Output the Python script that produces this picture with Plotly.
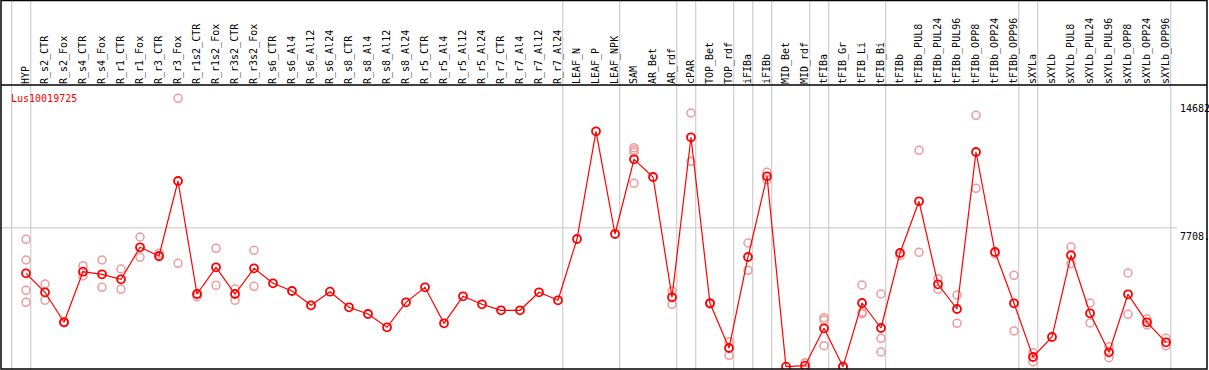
import plotly.graph_objects as go

categories = ["HYP", "R_s2_CTR", "R_s2_Fox", "R_s4_CTR", "R_s4_Fox", "R_r1_CTR", "R_r1_Fox",
              "R_r3_CTR", "R_r3_Fox", "R_r1s2_CTR", "R_r1s2_Fox", "R_r3s2_CTR", "R_r3s2_Fox",
              "R_s6_CTR", "R_s6_Al4", "R_s6_Al12", "R_s6_Al24", "R_s8_CTR", "R_s8_Al4",
              "R_s8_Al12", "R_s8_Al24", "R_r5_CTR", "R_r5_Al4", "R_r5_Al12", "R_r5_Al24",
              "R_r7_CTR", "R_r7_Al4", "R_r7_Al12", "R_r7_Al24", "LEAF_N", "LEAF_P", "LEAF_NPK",
              "SAM", "AR_Bet", "AR_rdf", "cPAR", "TOP_Bet", "TOP_rdf", "iFIBa", "iFIBb",
              "MID_Bet", "MID_rdf", "tFIBa", "tFIB_Gr", "tFIB_Li", "tFIB_Bi", "tFIBb",
              "tFIBb_PUL8", "tFIBb_PUL24", "tFIBb_PUL96", "tFIBb_OPP8", "tFIBb_OPP24",
              "tFIBb_OPP96", "sXYLa", "sXYLb", "sXYLb_PUL8", "sXYLb_PUL24", "sXYLb_PUL96",
              "sXYLb_OPP8", "sXYLb_OPP24", "sXYLb_OPP96"]

mean_values = [5260, 4237, 2622, 5346, 5206, 4937, 6660, 6192, 10230, 4146, 5583, 4146, 5529,
               4722, 4307, 3537, 4270, 3430, 3069, 2353, 3699, 4506, 2568, 4022, 3591,
               3268, 3268, 4237, 3807, 7107, 12905, 7376,
               11398, 10445, 3968, 12582, 3645, 1238, 6138, 10483,
               232, 285, 2299, 232, 3661, 2315, 6353,
               9137, 4668, 3338, 11791, 6407, 3645,
               754, 1831, 6229, 3107, 1007, 4130, 2622, 1545]

replicates = {
    "HYP": [7091, 5976, 4345, 3699],
    "R_s2_CTR": [4684, 3807],
    "R_s2_Fox": [2650, 2600],
    "R_s4_CTR": [5669, 5115],
    "R_s4_Fox": [5976, 4506],
    "R_r1_CTR": [5492, 4399],
    "R_r1_Fox": [7215, 6122],
    "R_r3_CTR": [6337, 6150],
    "R_r3_Fox": [14682, 5799],
    "R_r1s2_CTR": [4000, 4146],
    "R_r1s2_Fox": [6606, 4614],
    "R_r3s2_CTR": [4415, 3807],
    "R_r3s2_Fox": [6498, 4560],
    "SAM": [12023, 11899, 11775, 10106],
    "AR_rdf": [4307, 3591],
    "cPAR": [13891, 11290],
    "TOP_Bet": [3680, 3610],
    "TOP_rdf": [1578, 845],
    "iFIBa": [6892, 5422],
    "iFIBb": [10698, 10300],
    "MID_rdf": [447, 150],
    "tFIBa": [2870, 2746, 1362],
    "tFIB_Gr": [260, 200],
    "tFIB_Li": [4630, 3160, 3085],
    "tFIB_Bi": [4146, 1761, 1023],
    "tFIBb": [6208],
    "tFIBb_PUL8": [11882, 6391],
    "tFIBb_PUL24": [4969, 4399],
    "tFIBb_PUL96": [4092, 2568],
    "tFIBb_OPP8": [13767, 9837],
    "tFIBb_OPP24": [6299],
    "tFIBb_OPP96": [5153, 2154],
    "sXYLa": [985, 501],
    "sXYLb_PUL8": [6676, 5777],
    "sXYLb_PUL24": [3661, 2584],
    "sXYLb_PUL96": [1308, 716],
    "sXYLb_OPP8": [5276, 3053],
    "sXYLb_OPP24": [2800, 2477],
    "sXYLb_OPP96": [1761, 1362],
}

group_ends = [-1, 0, 28, 31, 34, 35, 37, 38, 39, 41, 42, 45, 52, 53, 60]
gene_name = "Lus10019725"
y_labels = ["14682", "7708.", "0"]
y_label_vals = [14682, 7708, 0]

MONO = "DejaVu Sans Mono"
W, H = 1209, 370
ML, MR, MT, MB = 1, 2, 85, 1
PW = W - ML - MR
PH = H - MT - MB

xs = list(range(len(categories)))
idx = {c: i for i, c in enumerate(categories)}

rep_x, rep_y = [], []
for c, vals in replicates.items():
    for v in vals:
        rep_x.append(idx[c])
        rep_y.append(v)

fig = go.Figure()
fig.add_trace(go.Scatter(
    x=rep_x, y=rep_y, mode="markers",
    marker=dict(symbol="circle-open", size=8, color="#f0999c", line=dict(width=1.5)),
    hoverinfo="skip", showlegend=False))
fig.add_trace(go.Scatter(
    x=xs, y=mean_values, mode="lines+markers",
    line=dict(color="#ff0000", width=1.2),
    marker=dict(symbol="circle-open", size=8, color="#ff0000", line=dict(width=1.8)),
    showlegend=False))

# axis ranges so that category i sits at x=26+19*i px, value 0 at y=371 px and 14682 at y=98 px
a = (ML - 26) / 19.0
b = a + PW / 19.0
k = (371 - 98.3) / 14682.0
r1 = (371 - MT) / k
r0 = r1 - PH / k

def px_to_paper_y(py):
    return (H - MB - py) / PH

def px_to_paper_x(px):
    return (px - ML) / PW

shapes = []
for g in group_ends:
    shapes.append(dict(type="line", xref="x", yref="paper", x0=g + 0.25, x1=g + 0.25,
                       y0=px_to_paper_y(H), y1=px_to_paper_y(0),
                       line=dict(color="#c4c4c4", width=1), layer="below"))
shapes.append(dict(type="line", xref="paper", yref="y", x0=0, x1=px_to_paper_x(1177),
                   y0=7708, y1=7708, line=dict(color="#c4c4c4", width=1), layer="below"))
# black frame
shapes.append(dict(type="rect", xref="paper", yref="paper", x0=0, x1=1,
                   y0=0, y1=px_to_paper_y(0.5), line=dict(color="black", width=1.5)))
shapes.append(dict(type="line", xref="paper", yref="paper", x0=0, x1=1,
                   y0=1, y1=1, line=dict(color="black", width=1.5)))

annotations = [dict(text=gene_name, xref="paper", yref="y", x=px_to_paper_x(9), y=r1 - (98 - MT) / k,
                    xanchor="left", yanchor="middle", showarrow=False,
                    font=dict(family=MONO, size=10, color="#ff0000"))]
yshifts = [-3, -1, 4]
anchors = ["top", "top", "bottom"]
for t, v, s, an in zip(y_labels, y_label_vals, yshifts, anchors):
    annotations.append(dict(text=t, xref="paper", yref="y", x=px_to_paper_x(1178), y=v,
                            xanchor="left", yanchor=an, yshift=s, showarrow=False,
                            font=dict(family=MONO, size=10, color="black")))

fig.update_layout(
    width=W, height=H,
    margin=dict(l=ML, r=MR, t=MT, b=MB, pad=0, autoexpand=False),
    paper_bgcolor="white", plot_bgcolor="white",
    xaxis=dict(range=[a, b], side="top", tickmode="array", tickvals=xs, ticktext=categories,
               tickangle=-90, tickfont=dict(family=MONO, size=10, color="black"),
               automargin=False, ticklabelstandoff=0,
               showgrid=False, zeroline=False, showline=False, ticks="", fixedrange=True),
    yaxis=dict(range=[r0, r1], showgrid=False, zeroline=False, showline=False,
               automargin=False,
               showticklabels=False, ticks="", fixedrange=True),
    shapes=shapes, annotations=annotations,
)

fig.write_html("out.html", config={"displayModeBar": False},
               post_script="document.body.style.margin='0px';document.body.style.padding='0px';")
